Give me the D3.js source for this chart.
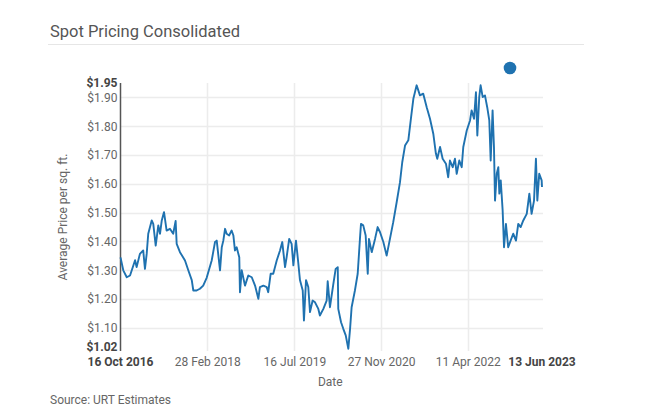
<!DOCTYPE html>
<html>
<head>
<meta charset="utf-8">
<script src="https://cdn.jsdelivr.net/npm/d3@7"></script>
<style>
  html, body { margin: 0; padding: 0; background: #fff; }
  svg { display: block; font-family: Roboto, "Noto Sans", sans-serif; }
</style>
</head>
<body>
<svg id="chart" width="645" height="416"></svg>
<script>
const title = "Spot Pricing Consolidated";
const source = "Source: URT Estimates";
const xTitle = "Date";
const yTitle = "Average Price per sq. ft.";

const dates = [
"2016-10-16","2016-11-01","2016-11-21","2016-12-10","2016-12-20","2017-01-08","2017-01-17","2017-02-05","2017-02-24","2017-03-06",
"2017-03-16","2017-03-25","2017-04-14","2017-04-23","2017-05-07","2017-05-22","2017-06-01","2017-06-11","2017-06-24","2017-07-09",
"2017-07-28","2017-08-16","2017-08-30","2017-09-05","2017-09-24","2017-10-23","2017-11-11","2017-12-01","2017-12-10","2017-12-29",
"2018-01-17","2018-02-05","2018-02-25","2018-03-26","2018-04-14","2018-04-24","2018-05-13","2018-05-23","2018-06-01","2018-06-11",
"2018-06-20","2018-07-05","2018-07-19","2018-07-29","2018-08-07","2018-08-17","2018-09-01","2018-09-05","2018-09-15","2018-10-04",
"2018-10-23","2018-11-12","2018-12-01","2018-12-20","2018-12-29","2019-01-18","2019-02-06","2019-02-15","2019-03-01","2019-03-16",
"2019-04-05","2019-04-24","2019-05-07","2019-05-23","2019-06-01","2019-06-16","2019-06-30","2019-07-10","2019-07-25","2019-08-07",
"2019-08-17","2019-09-02","2019-09-09","2019-09-21","2019-10-04","2019-10-14","2019-10-29","2019-11-12","2019-12-01","2019-12-10",
"2019-12-30","2020-01-18","2020-01-24","2020-02-06","2020-02-25","2020-03-10","2020-03-22","2020-03-25","2020-04-10","2020-04-23",
"2020-05-07","2020-05-22","2020-06-01","2020-06-10","2020-06-29","2020-07-15","2020-07-28","2020-08-03","2020-08-16","2020-08-30",
"2020-09-11","2020-09-18","2020-10-04","2020-10-23","2020-11-07","2020-11-21","2020-12-10","2020-12-29","2021-01-17","2021-02-05",
"2021-02-25","2021-03-16","2021-03-29","2021-04-14","2021-05-03","2021-05-18","2021-06-01","2021-06-20","2021-07-09","2021-07-28",
"2021-08-17","2021-09-05","2021-09-24","2021-10-09","2021-10-17","2021-11-02","2021-11-17","2021-12-06","2021-12-19","2021-12-29",
"2022-01-14","2022-01-27","2022-02-06","2022-02-21","2022-03-07","2022-03-16","2022-04-05","2022-04-24","2022-05-03","2022-05-17",
"2022-05-28","2022-06-05","2022-06-16","2022-06-24","2022-07-06","2022-07-19","2022-08-01","2022-08-13","2022-08-21","2022-09-01",
"2022-09-09","2022-09-15","2022-09-25","2022-10-04","2022-10-10","2022-10-18","2022-10-29","2022-11-06","2022-11-17","2022-11-30",
"2022-12-14","2022-12-29","2023-01-14","2023-01-27","2023-02-10","2023-02-25","2023-03-17","2023-04-01","2023-04-14","2023-04-28",
"2023-05-09","2023-05-17","2023-05-28","2023-06-11","2023-06-13"
];

const prices = [
1.345,1.300,1.276,1.282,1.300,1.335,1.311,1.357,1.369,1.305,
1.357,1.427,1.473,1.461,1.386,1.456,1.427,1.473,1.502,1.438,
1.444,1.427,1.471,1.392,1.363,1.334,1.300,1.266,1.230,1.230,
1.236,1.247,1.274,1.334,1.398,1.403,1.300,1.380,1.403,1.444,
1.427,1.421,1.438,1.421,1.369,1.380,1.345,1.224,1.300,1.247,
1.282,1.276,1.247,1.201,1.242,1.247,1.242,1.224,1.288,1.288,
1.334,1.369,1.398,1.311,1.345,1.409,1.392,1.317,1.403,1.328,
1.266,1.230,1.126,1.266,1.242,1.155,1.195,1.189,1.166,1.143,
1.166,1.195,1.262,1.172,1.250,1.305,1.311,1.166,1.120,1.097,
1.074,1.028,1.097,1.172,1.230,1.288,1.409,1.461,1.456,1.421,
1.288,1.409,1.363,1.409,1.450,1.432,1.398,1.351,1.409,1.467,
1.537,1.606,1.675,1.733,1.751,1.826,1.895,1.942,1.907,1.913,
1.866,1.826,1.774,1.705,1.687,1.728,1.687,1.670,1.623,1.681,
1.658,1.687,1.635,1.681,1.658,1.728,1.785,1.820,1.855,1.826,
1.918,1.768,1.901,1.942,1.901,1.907,1.866,1.820,1.681,1.855,
1.728,1.542,1.635,1.658,1.566,1.612,1.508,1.380,1.461,1.380,
1.403,1.427,1.403,1.461,1.450,1.473,1.496,1.566,1.496,1.542,
1.687,1.542,1.635,1.612,1.589
];

const yTicks = [1.10, 1.20, 1.30, 1.40, 1.50, 1.60, 1.70, 1.80, 1.90];
const yDomain = [1.02, 1.95];
const xTickDates = ["2018-02-28", "2019-07-16", "2020-11-27", "2022-04-11"];
const xDomainDates = ["2016-10-16", "2023-06-13"];

(function () {
const parse = d3.utcParse("%Y-%m-%d");
const data = dates.map((d, i) => ({ date: parse(d), value: prices[i] }));

const svg = d3.select("#chart");
const mLeft = 120.5, mRight = 542, mTop = 83, mBottom = 351;
const fs = 12;

const x = d3.scaleUtc().domain(xDomainDates.map(parse)).range([mLeft, mRight]);
const y = d3.scaleLinear().domain(yDomain).range([mBottom, mTop]);

// Title
svg.append("text").attr("x", 50).attr("y", 37).attr("font-size", 16.5)
  .attr("fill", "#555").text(title);
svg.append("line").attr("x1", 48).attr("x2", 584).attr("y1", 44.5).attr("y2", 44.5)
  .attr("stroke", "#e6e6e6").attr("stroke-width", 1);

// Gridlines
svg.append("g").selectAll("line").data(yTicks).join("line")
  .attr("x1", mLeft).attr("x2", mRight + 1)
  .attr("y1", d => Math.round(y(d)) + 0.5).attr("y2", d => Math.round(y(d)) + 0.5)
  .attr("stroke", "#ececec").attr("stroke-width", 1.5);
svg.append("g").selectAll("line").data(xTickDates.map(parse)).join("line")
  .attr("x1", d => Math.round(x(d)) + 0.5).attr("x2", d => Math.round(x(d)) + 0.5)
  .attr("y1", mTop).attr("y2", mBottom)
  .attr("stroke", "#ececec").attr("stroke-width", 1.5);

// Y axis
const fmt = d3.format("$.2f");
const yAxis = d3.axisLeft(y).tickValues(yTicks).tickFormat(fmt).tickSize(0).tickPadding(3);
const gy = svg.append("g").attr("transform", `translate(${mLeft},0)`).call(yAxis);
gy.select(".domain").remove();
gy.selectAll("text").attr("font-size", fs).attr("fill", "#666").attr("font-family", "Roboto, sans-serif");
svg.append("line").attr("x1", mLeft).attr("x2", mLeft).attr("y1", mTop).attr("y2", mBottom)
  .attr("stroke", "#555").attr("stroke-width", 1.5);
yDomain.forEach((v, i) => {
  svg.append("text").attr("x", mLeft - 3).attr("y", y(v)).attr("dy", i === 0 ? "0em" : "0.3em")
    .attr("text-anchor", "end").attr("font-size", fs).attr("font-weight", "bold")
    .attr("fill", "#444").text(fmt(v));
});

// X axis
const dfmt = d3.utcFormat("%-d %b %Y");
const xAxis = d3.axisBottom(x).tickValues(xTickDates.map(parse)).tickFormat(dfmt).tickSize(0).tickPadding(6);
const gx = svg.append("g").attr("transform", `translate(0,${mBottom})`).call(xAxis);
gx.select(".domain").remove();
gx.selectAll("text").attr("font-size", fs).attr("fill", "#666").attr("font-family", "Roboto, sans-serif");
xDomainDates.forEach((d, i) => {
  svg.append("text").attr("x", x(parse(d))).attr("y", mBottom + 6).attr("dy", "0.71em")
    .attr("text-anchor", "middle").attr("font-size", fs).attr("font-weight", "bold")
    .attr("fill", "#444").text(dfmt(parse(d)));
});

// Axis titles
svg.append("text").attr("x", (mLeft + mRight) / 2 - 1).attr("y", 386).attr("text-anchor", "middle")
  .attr("font-size", fs).attr("fill", "#666").text(xTitle);
svg.append("text").attr("transform", `translate(67,${(mTop + mBottom) / 2}) rotate(-90)`)
  .attr("text-anchor", "middle").attr("font-size", fs).attr("fill", "#666").text(yTitle);

// Line
const line = d3.line().x(d => x(d.date)).y(d => y(d.value));
svg.append("path").datum(data).attr("d", line).attr("fill", "none")
  .attr("stroke", "#1f72b0").attr("stroke-width", 1.9).attr("stroke-linejoin", "round");

// Legend dot
svg.append("circle").attr("cx", 510).attr("cy", 68).attr("r", 6.3).attr("fill", "#1f72b0");

// Source
svg.append("text").attr("x", 50).attr("y", 404).attr("font-size", fs).attr("fill", "#666").text(source);
})();
</script>
</body>
</html>
